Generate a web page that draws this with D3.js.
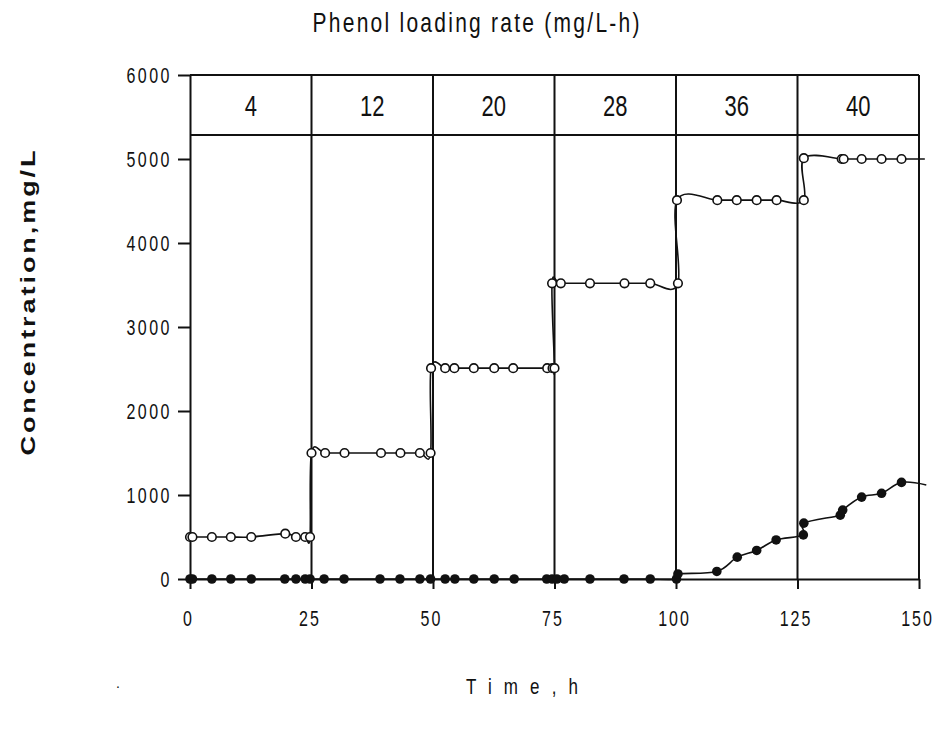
<!DOCTYPE html>
<html>
<head>
<meta charset="utf-8">
<script src="https://cdn.jsdelivr.net/npm/d3@7"></script>
<style>
  body { margin: 0; background: #fff; }
  text { font-family: "Liberation Sans", Arial, sans-serif; fill: #111; }
</style>
</head>
<body>
<script>
// DATA
var loadingRates = [4, 12, 20, 28, 36, 40];
var phaseEdges = [0, 25, 50, 75, 100, 125, 150];
var xTicks = [0, 25, 50, 75, 100, 125, 150];
var yTicks = [0, 1000, 2000, 3000, 4000, 5000, 6000];

// open circles - influent phenol
var feedTime = [0, 0.5, 4.5, 8.4, 12.6, 19.6, 21.8, 23.7, 24.7,
    25.0, 27.8, 31.8, 39.3, 43.3, 47.3, 49.5,
    49.6, 52.5, 54.4, 58.4, 62.6, 66.5, 73.5, 74.6, 75.0,
    74.5, 76.3, 82.3, 89.4, 94.7, 100.4,
    100.2, 108.5, 112.5, 116.6, 120.7, 126.3,
    126.3, 134.1, 134.5, 138.2, 142.3, 146.4, 151.2];
var feedConc = [500, 500, 500, 500, 500, 540, 500, 500, 500,
    1500, 1500, 1500, 1500, 1500, 1500, 1500,
    2510, 2510, 2510, 2510, 2510, 2510, 2510, 2510, 2510,
    3520, 3520, 3520, 3520, 3520, 3520,
    4510, 4510, 4510, 4510, 4510, 4510,
    5010, 5000, 5000, 5000, 5000, 5000, 5000];

// filled circles - effluent phenol
var effTime = [0, 0.5, 4.5, 8.4, 12.6, 19.5, 21.8, 23.7, 24.7, 27.6, 31.7, 39.1, 43.2, 47.3, 49.5,
    52.5, 54.5, 58.4, 62.6, 66.7, 73.4, 74.5, 75.5, 77.0, 82.3, 89.3, 94.7, 100.1,
    100.4, 108.4, 112.6, 116.6, 120.6, 126.2, 126.3, 133.8, 134.3, 138.2, 142.3, 146.4, 151.5];
var effConc = [0, 0, 0, 0, 0, 0, 0, 0, 0, 0, 0, 0, 0, 0, 0,
    0, 0, 0, 0, 0, 0, 0, 0, 0, 0, 0, 0, 0,
    60, 90, 260, 340, 465, 525, 665, 760, 820, 975, 1020, 1150, 1120];

var headerBottom = 5285;

// MARGINS AND SIZE
var margin = {top: 75, right: 24, bottom: 153, left: 190};
var width = 729;
var height = 504;

var svg = d3.select("body")
    .append("svg")
    .attr("width", 943)
    .attr("height", 732);

var g = svg.append("g")
    .attr("transform", `translate(${margin.left}, ${margin.top})`);

// SCALES
var x = d3.scaleLinear().domain([0, 150]).range([0, width]);
var y = d3.scaleLinear().domain([0, 6000]).range([height, 0]);

var stretch = 1.35;

// PHASE GRID + HEADER BOX
g.selectAll("line.phase")
    .data(phaseEdges.slice(1))
    .enter()
    .append("line")
    .attr("x1", d => x(d))
    .attr("x2", d => x(d))
    .attr("y1", y(6000))
    .attr("y2", y(0))
    .attr("stroke", "#111")
    .attr("stroke-width", 2);

g.append("line")
    .attr("x1", x(0)).attr("x2", x(150))
    .attr("y1", y(6000)).attr("y2", y(6000))
    .attr("stroke", "#111").attr("stroke-width", 2);

g.append("line")
    .attr("x1", x(0)).attr("x2", x(150))
    .attr("y1", y(headerBottom)).attr("y2", y(headerBottom))
    .attr("stroke", "#111").attr("stroke-width", 2);

g.selectAll("text.rate")
    .data(loadingRates)
    .enter()
    .append("text")
    .attr("class", "rate")
    .attr("text-anchor", "middle")
    .attr("font-size", 22)
    .attr("transform", (d, i) => {
        var cx = (x(phaseEdges[i]) + x(phaseEdges[i + 1])) / 2;
        var cy = (y(6000) + y(headerBottom)) / 2 + 11;
        return `translate(${cx}, ${cy}) scale(1, ${stretch})`;
    })
    .text(d => d);

// AXES
var xAxis = d3.axisBottom(x).tickValues(xTicks).tickSize(10).tickSizeOuter(0);
var gx = g.append("g")
    .attr("transform", `translate(0, ${height})`)
    .call(xAxis);
gx.select(".domain").attr("stroke", "#111").attr("stroke-width", 2);
gx.selectAll(".tick line").attr("stroke", "#111").attr("stroke-width", 2);
gx.selectAll(".tick text")
    .attr("y", 0).attr("dy", 0)
    .attr("font-size", 16)
    .attr("letter-spacing", 2)
    .attr("font-family", "Liberation Sans, Arial, sans-serif")
    .attr("transform", `translate(-2, 47) scale(1, ${stretch})`);

var yAxis = d3.axisLeft(y).tickValues(yTicks).tickSize(12).tickSizeOuter(0)
    .tickFormat(d3.format("d"));
var gy = g.append("g").call(yAxis);
gy.select(".domain").attr("stroke", "#111").attr("stroke-width", 2);
gy.selectAll(".tick line").attr("stroke", "#111").attr("stroke-width", 2);
gy.selectAll(".tick text")
    .attr("x", 0).attr("dy", 0)
    .attr("font-size", 16)
    .attr("letter-spacing", 2.5)
    .attr("font-family", "Liberation Sans, Arial, sans-serif")
    .attr("transform", `translate(-18, 7) scale(1, ${stretch})`);

// LINES
var line = d3.line()
    .x(d => x(d[0]))
    .y(d => y(d[1]))
    .curve(d3.curveCatmullRom.alpha(0));

var feed = feedTime.map((t, i) => [t, feedConc[i]]);
var eff = effTime.map((t, i) => [t, effConc[i]]);

g.append("path")
    .datum(feed)
    .attr("d", line)
    .attr("fill", "none")
    .attr("stroke", "#111")
    .attr("stroke-width", 1.6);

g.append("path")
    .datum(eff)
    .attr("d", line)
    .attr("fill", "none")
    .attr("stroke", "#111")
    .attr("stroke-width", 1.6);

// MARKERS (the last point sits past the axis end and has no marker)
g.selectAll("circle.eff")
    .data(eff.filter(d => d[0] <= 150))
    .enter()
    .append("circle")
    .attr("cx", d => x(d[0]))
    .attr("cy", d => y(d[1]))
    .attr("r", 4.8)
    .attr("fill", "#111");

g.selectAll("circle.feed")
    .data(feed.filter(d => d[0] <= 150))
    .enter()
    .append("circle")
    .attr("cx", d => x(d[0]))
    .attr("cy", d => y(d[1]))
    .attr("r", 4.3)
    .attr("fill", "#fff")
    .attr("stroke", "#111")
    .attr("stroke-width", 1.6);

// TITLES
svg.append("text")
    .attr("text-anchor", "middle")
    .attr("font-size", 21)
    .attr("textLength", 327)
    .attr("lengthAdjust", "spacing")
    .attr("transform", `translate(476, 32) scale(1, ${stretch})`)
    .text("Phenol loading rate (mg/L-h)");

svg.append("text")
    .attr("text-anchor", "middle")
    .attr("font-size", 17)
    .attr("textLength", 112)
    .attr("lengthAdjust", "spacing")
    .attr("transform", `translate(522, 694) scale(1, ${stretch})`)
    .text("Time,h");

svg.append("text")
    .attr("text-anchor", "middle")
    .attr("font-size", 20)
    .attr("font-weight", "bold")
    .attr("textLength", 226)
    .attr("lengthAdjust", "spacing")
    .attr("transform", `translate(35, 303) scale(1, ${stretch}) rotate(-90)`)
    .text("Concentration,mg/L");

svg.append("text")
    .attr("font-size", 14)
    .attr("transform", "translate(116, 688)")
    .text(".");
</script>
</body>
</html>
